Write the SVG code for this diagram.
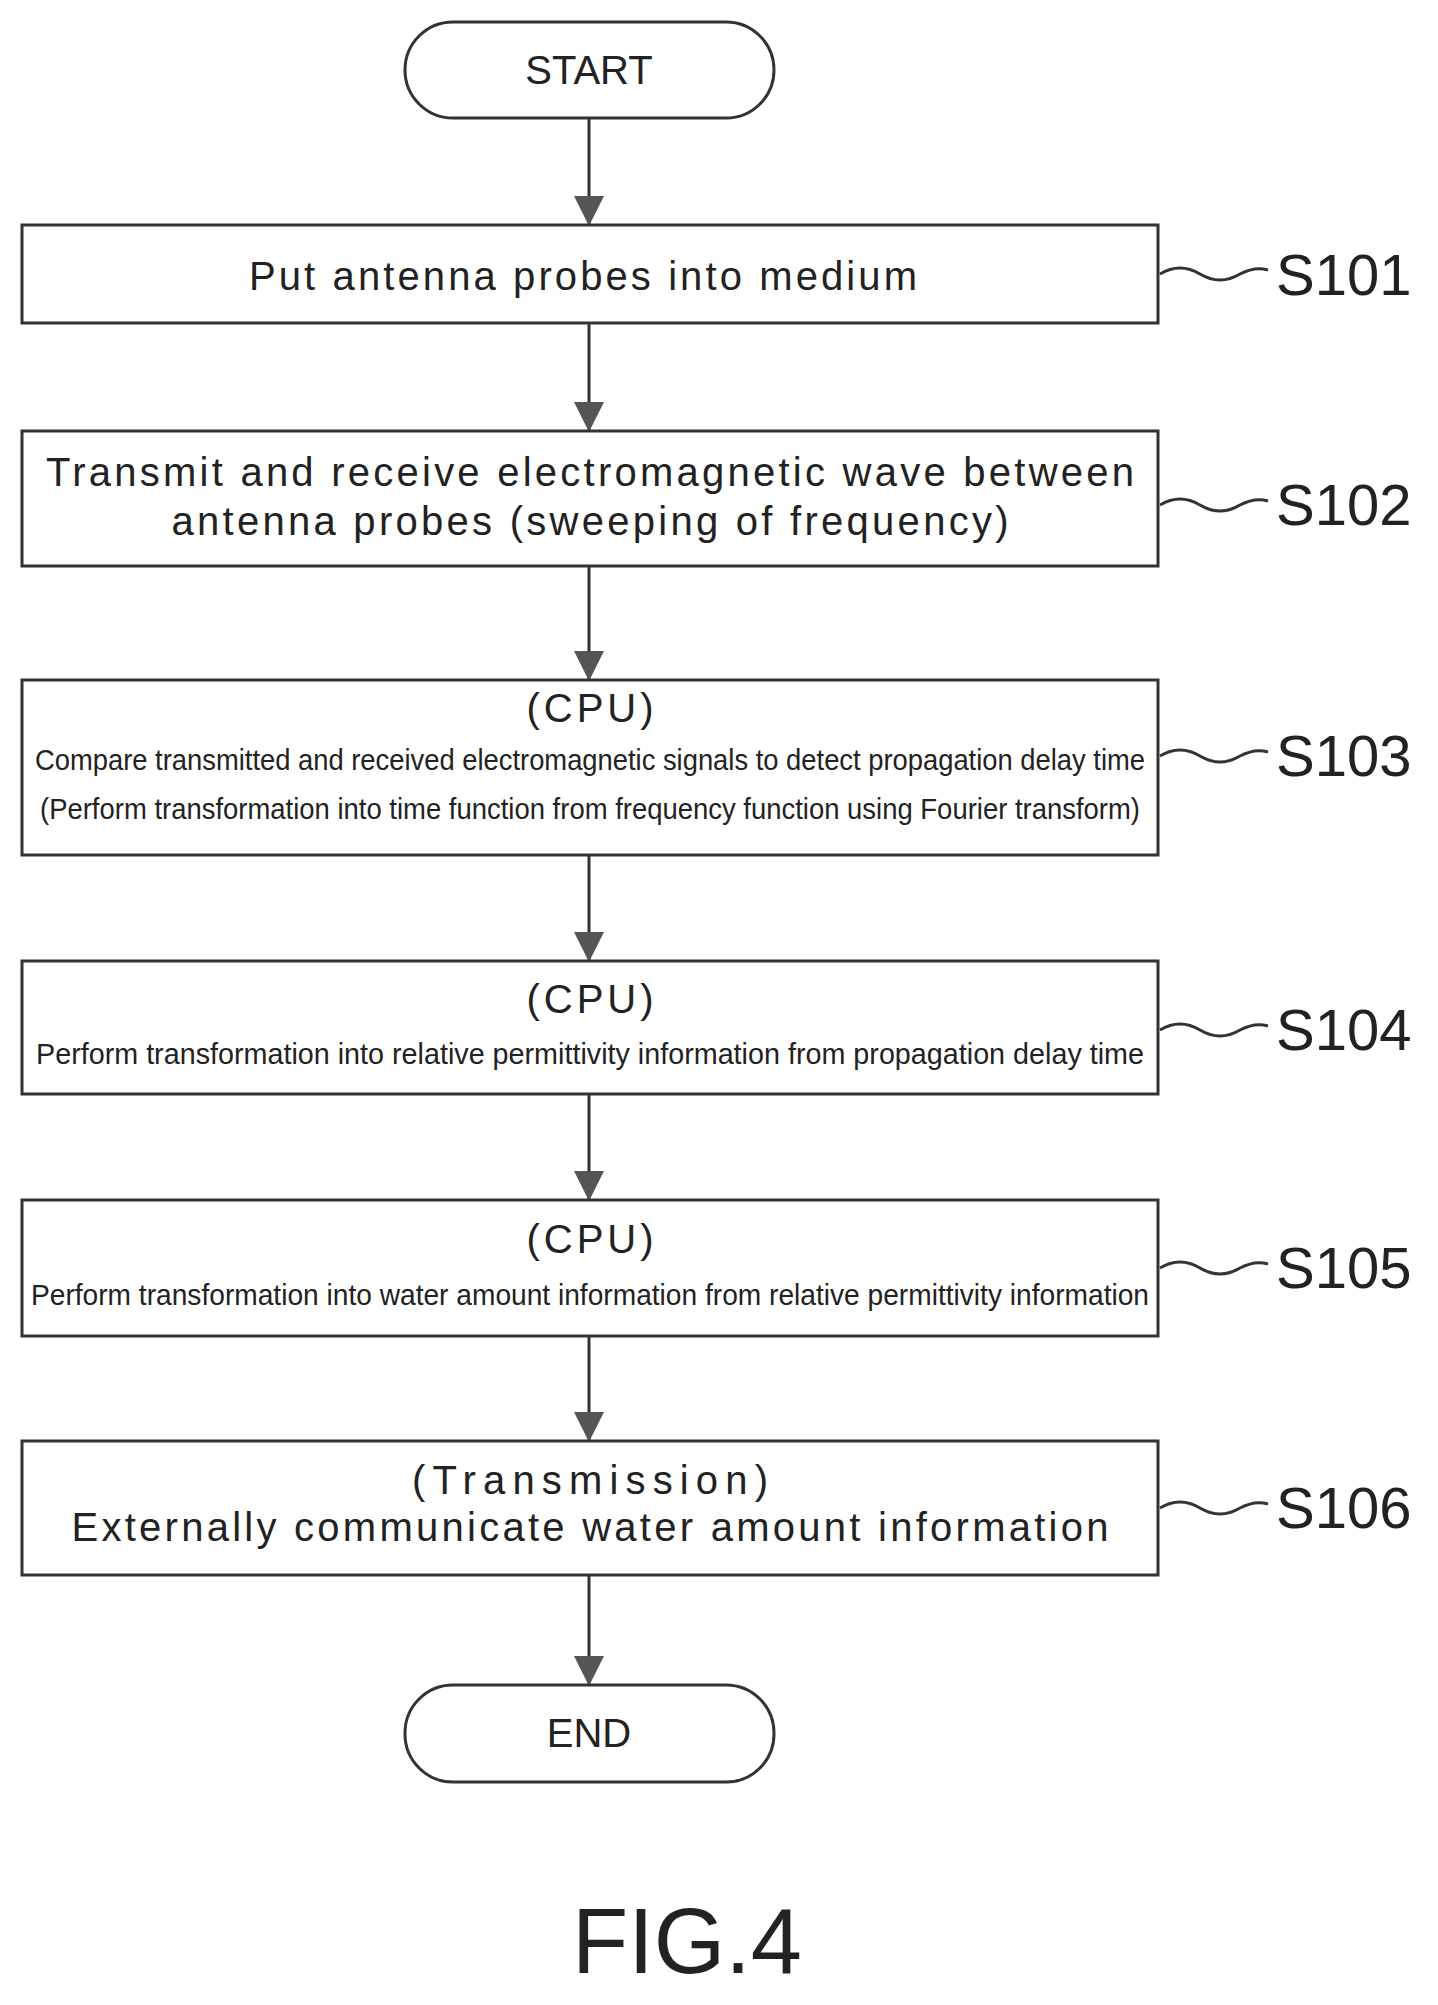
<svg xmlns="http://www.w3.org/2000/svg" width="1438" height="2005" viewBox="0 0 1438 2005">
<style>
.b{fill:#fff;stroke:#333;stroke-width:3}
.t{font-family:"Liberation Sans",Arial,sans-serif;fill:#222;text-anchor:middle}
.m{font-size:40px}
.s{font-size:29px}
.l{font-family:"Liberation Sans",Arial,sans-serif;fill:#222;font-size:58px}
.c{stroke:#333;stroke-width:3;fill:none}
</style>
<defs><marker id="a" markerWidth="30" markerHeight="30" refX="28" refY="15" orient="auto" markerUnits="userSpaceOnUse" viewBox="0 0 30 30"><path d="M0,0L30,15L0,30z" fill="#555"/></marker></defs>
<rect width="1438" height="2005" fill="#fff"/>
<g id="connectors">
<line class="c" x1="589" y1="118" x2="589" y2="224" marker-end="url(#a)"/>
<line class="c" x1="589" y1="323" x2="589" y2="430" marker-end="url(#a)"/>
<line class="c" x1="589" y1="566" x2="589" y2="679" marker-end="url(#a)"/>
<line class="c" x1="589" y1="855" x2="589" y2="960" marker-end="url(#a)"/>
<line class="c" x1="589" y1="1094" x2="589" y2="1199" marker-end="url(#a)"/>
<line class="c" x1="589" y1="1336" x2="589" y2="1440" marker-end="url(#a)"/>
<line class="c" x1="589" y1="1575" x2="589" y2="1684" marker-end="url(#a)"/>
<path class="c" d="M1160 274q20-12 40 0t40 0q15-8 28-4M1160 505q20-12 40 0t40 0q15-8 28-4M1160 756q20-12 40 0t40 0q15-8 28-4M1160 1030q20-12 40 0t40 0q15-8 28-4M1160 1268q20-12 40 0t40 0q15-8 28-4M1160 1508q20-12 40 0t40 0q15-8 28-4"/>
</g>
<g id="start"><rect class="b" x="405" y="22" width="369" height="96" rx="48"/><text class="t m" x="589" y="84">START</text></g>
<g id="s101"><rect class="b" x="22" y="225" width="1136" height="98"/><text class="t m" x="583" y="290" textLength="668" lengthAdjust="spacing">Put antenna probes into medium</text><text class="l" x="1276" y="295">S101</text></g>
<g id="s102"><rect class="b" x="22" y="431" width="1136" height="135"/><text class="t m" x="590" y="486" textLength="1088" lengthAdjust="spacing">Transmit and receive electromagnetic wave between</text><text class="t m" x="590" y="535" textLength="837" lengthAdjust="spacing">antenna probes (sweeping of frequency)</text><text class="l" x="1276" y="525">S102</text></g>
<g id="s103"><rect class="b" x="22" y="680" width="1136" height="175"/><text class="t m" x="590" y="722" textLength="127" lengthAdjust="spacing">(CPU)</text><text class="t s" x="590" y="770" textLength="1110" lengthAdjust="spacingAndGlyphs">Compare transmitted and received electromagnetic signals to detect propagation delay time</text><text class="t s" x="590" y="819" textLength="1100" lengthAdjust="spacingAndGlyphs">(Perform transformation into time function from frequency function using Fourier transform)</text><text class="l" x="1276" y="776">S103</text></g>
<g id="s104"><rect class="b" x="22" y="961" width="1136" height="133"/><text class="t m" x="590" y="1013" textLength="127" lengthAdjust="spacing">(CPU)</text><text class="t s" x="590" y="1064" textLength="1108" lengthAdjust="spacingAndGlyphs">Perform transformation into relative permittivity information from propagation delay time</text><text class="l" x="1276" y="1050">S104</text></g>
<g id="s105"><rect class="b" x="22" y="1200" width="1136" height="136"/><text class="t m" x="590" y="1253" textLength="127" lengthAdjust="spacing">(CPU)</text><text class="t s" x="590" y="1305" textLength="1118" lengthAdjust="spacingAndGlyphs">Perform transformation into water amount information from relative permittivity information</text><text class="l" x="1276" y="1288">S105</text></g>
<g id="s106"><rect class="b" x="22" y="1441" width="1136" height="134"/><text class="t m" x="590" y="1494" textLength="356" lengthAdjust="spacing">(Transmission)</text><text class="t m" x="590" y="1541" textLength="1037" lengthAdjust="spacing">Externally communicate water amount information</text><text class="l" x="1276" y="1528">S106</text></g>
<g id="end"><rect class="b" x="405" y="1685" width="369" height="97" rx="48"/><text class="t m" x="589" y="1747">END</text></g>
<text class="t" x="687" y="1973" font-size="92">FIG.4</text>
</svg>
